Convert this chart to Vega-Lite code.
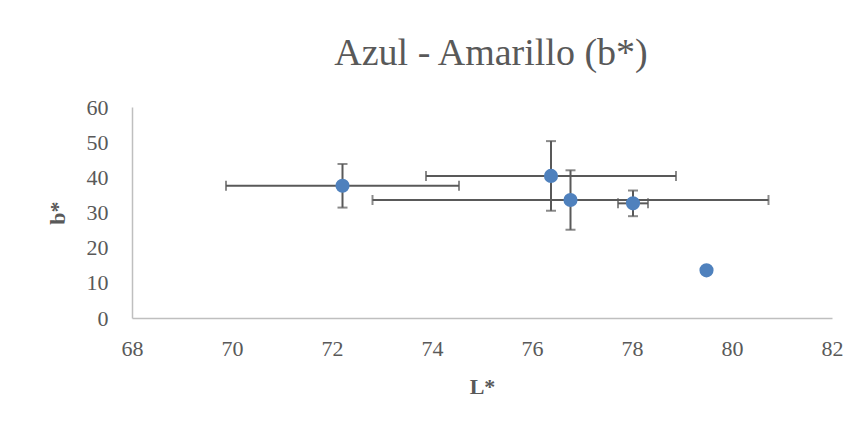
{
  "$schema": "https://vega.github.io/schema/vega-lite/v6.json",
  "autosize": "none",
  "width": 700,
  "height": 211,
  "padding": {"left": 132, "top": 107, "right": 30, "bottom": 110},
  "background": "white",
  "title": {
    "text": "Azul - Amarillo (b*)",
    "anchor": "middle",
    "frame": "group",
    "baseline": "alphabetic",
    "offset": 40,
    "dx": 9,
    "dy": 47,
    "font": "Liberation Serif",
    "fontSize": 38,
    "fontWeight": "normal",
    "color": "#595959"
  },
  "data": {
    "values": [
      {"L": 72.21, "b": 37.6, "Lerr": 2.33, "berr": 6.2},
      {"L": 76.38, "b": 40.4, "Lerr": 2.5, "berr": 9.9},
      {"L": 76.77, "b": 33.55, "Lerr": 3.96, "berr": 8.45},
      {"L": 78.02, "b": 32.6, "Lerr": 0.3, "berr": 3.65},
      {"L": 79.49, "b": 13.56, "Lerr": 0, "berr": 0}
    ]
  },
  "encoding": {
    "x": {
      "field": "L",
      "type": "quantitative",
      "title": "L*",
      "scale": {"domain": [68, 82], "nice": false, "zero": false},
      "axis": {"values": [68, 70, 72, 74, 76, 78, 80, 82], "labelPadding": 20, "titlePadding": 17}
    },
    "y": {
      "field": "b",
      "type": "quantitative",
      "title": "b*",
      "scale": {"domain": [0, 60], "nice": false},
      "axis": {"values": [0, 10, 20, 30, 40, 50, 60], "labelPadding": 24, "titlePadding": 17}
    }
  },
  "layer": [
    {
      "mark": {
        "type": "errorbar",
        "color": "#595959",
        "rule": {"strokeWidth": 2},
        "ticks": {"size": 10, "thickness": 2}
      },
      "encoding": {"xError": {"field": "Lerr"}}
    },
    {
      "mark": {
        "type": "errorbar",
        "color": "#595959",
        "rule": {"strokeWidth": 2},
        "ticks": {"size": 10, "thickness": 2}
      },
      "encoding": {"yError": {"field": "berr"}}
    },
    {
      "mark": {"type": "point", "filled": true, "shape": "circle", "size": 200, "color": "#4f81bd", "opacity": 1}
    }
  ],
  "config": {
    "view": {"stroke": null},
    "axis": {
      "grid": false,
      "ticks": false,
      "domainColor": "#bfbfbf",
      "domainWidth": 1.5,
      "labelFont": "Liberation Serif",
      "labelFontSize": 22,
      "labelColor": "#595959",
      "labelFlush": false,
      "labelOverlap": false,
      "titleFont": "Liberation Serif",
      "titleFontSize": 22,
      "titleFontWeight": "bold",
      "titleColor": "#595959"
    }
  }
}
